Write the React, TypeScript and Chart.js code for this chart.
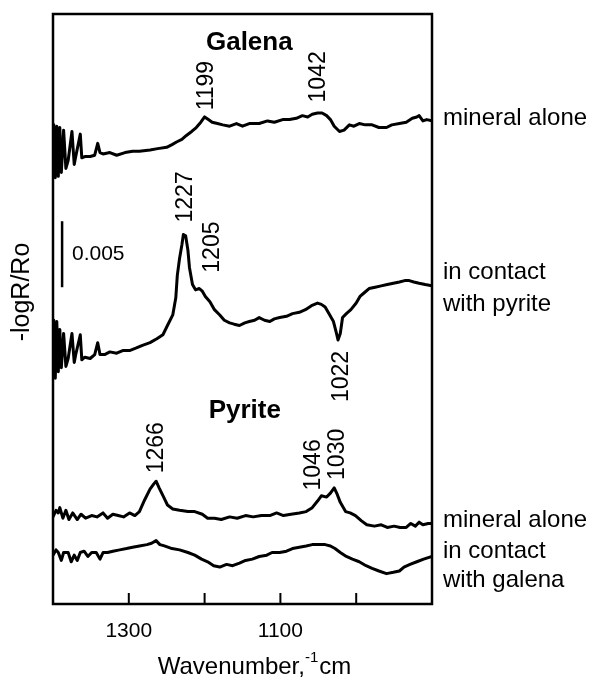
import { useEffect, useRef } from 'react';
import { Chart, registerables } from 'chart.js';
Chart.register(...registerables);

// Wavenumber axis (cm-1), reversed
const xMin = 900;
const xMax = 1400;
const xStep = 100;
const labelledTicks = [1300, 1100];

// y axis in units of 0.001 (-logR/Ro), spectra are offset vertically
const yMin = 0;
const yMax = 44.7;

// Galena, mineral alone
const galenaAloneWn = [1400,1399,1397,1395,1393,1391,1389,1386,1383,1380,1375,1372,1370,1364,1362,1358,1351,1345,1341,1338,1334,1325,1316,1305,1295,1286,1272,1262,1250,1243,1237,1230,1224,1217,1211,1205,1200,1195,1190,1183,1176,1167,1158,1150,1141,1128,1117,1108,1097,1088,1079,1071,1064,1058,1051,1045,1039,1034,1029,1022,1016,1009,1003,996,988,979,970,960,953,943,934,926,920,917,912,907,900];
const galenaAloneVal = [34.4,36.3,32.3,36.2,32.4,36.1,32.7,35.9,33.0,33.6,35.8,33.3,33.9,35.6,33.8,33.9,33.9,34.0,34.9,34.2,34.1,34.2,34.0,34.2,34.3,34.3,34.4,34.5,34.6,34.8,35.0,35.2,35.5,35.8,36.1,36.5,36.9,36.7,36.5,36.4,36.3,36.2,36.4,36.2,36.4,36.4,36.6,36.5,36.7,36.7,36.8,37.0,36.9,37.1,37.2,37.2,37.0,36.7,36.2,35.8,35.9,36.3,36.2,36.4,36.3,36.3,36.1,36.1,36.3,36.4,36.5,36.8,36.9,37.0,36.6,36.7,36.6];

// Galena, in contact with pyrite
const galenaContactWn = [1400,1399,1397,1395,1393,1391,1389,1386,1383,1380,1375,1372,1370,1364,1362,1358,1351,1345,1341,1338,1332,1325,1316,1308,1299,1290,1282,1272,1263,1255,1249,1242,1238,1236,1233,1230,1228,1225,1222,1220,1216,1212,1207,1203,1199,1193,1187,1180,1174,1167,1161,1154,1147,1141,1134,1128,1121,1114,1108,1101,1092,1084,1075,1067,1059,1051,1046,1041,1036,1030,1026,1024,1021,1018,1013,1007,1000,995,989,983,975,967,959,951,943,936,930,924,917,909,900];
const galenaContactVal = [19.2,21.5,17.1,21.4,17.6,20.8,17.9,20.5,18.0,18.6,20.5,18.3,18.9,20.4,18.5,18.7,18.6,18.9,19.8,18.9,18.9,19.1,19.0,19.2,19.2,19.4,19.6,19.8,20.1,20.4,21.1,21.9,23.2,24.9,26.2,27.2,28.0,27.9,26.8,25.5,24.2,23.8,23.9,23.7,23.3,22.9,22.3,21.9,21.5,21.3,21.2,21.1,21.3,21.4,21.5,21.7,21.5,21.4,21.6,21.7,21.8,22.0,22.1,22.3,22.6,22.8,22.7,22.5,22.0,21.4,20.5,20.0,20.5,21.7,22.0,22.3,22.8,23.3,23.6,23.9,24.0,24.1,24.2,24.3,24.4,24.5,24.5,24.4,24.3,24.2,24.1];

// Pyrite, mineral alone
const pyriteAloneWn = [1400,1396,1393,1391,1387,1383,1379,1374,1368,1363,1357,1349,1342,1334,1328,1321,1314,1307,1299,1292,1286,1279,1272,1267,1264,1260,1254,1249,1242,1233,1222,1213,1203,1196,1187,1178,1167,1157,1146,1136,1125,1114,1105,1096,1086,1075,1066,1058,1051,1046,1039,1034,1029,1025,1021,1014,1008,1001,993,986,976,967,959,950,942,934,928,922,917,912,905,900];
const pyriteAloneVal = [6.6,7.1,6.9,7.3,6.5,7.1,6.4,6.9,6.4,6.8,6.5,6.7,6.6,6.9,6.5,6.8,6.7,6.6,6.9,6.7,7.0,7.9,8.7,9.1,9.3,8.8,8.1,7.5,7.2,7.1,7.0,7.0,6.8,6.5,6.5,6.4,6.6,6.5,6.7,6.6,6.7,6.7,6.9,6.7,6.8,6.9,7.0,7.3,7.8,8.2,8.1,8.4,8.8,8.3,7.7,7.0,6.9,6.7,6.3,6.0,5.9,6.0,5.8,5.9,5.8,5.8,6.1,5.9,6.2,6.0,6.1,6.1];

// Pyrite, in contact with galena
const pyriteContactWn = [1400,1396,1393,1389,1386,1380,1376,1372,1368,1364,1359,1354,1349,1343,1338,1334,1328,1321,1312,1303,1295,1286,1276,1270,1264,1259,1253,1243,1233,1222,1213,1204,1196,1188,1180,1171,1163,1154,1146,1137,1128,1118,1111,1101,1092,1084,1075,1066,1058,1049,1041,1034,1028,1021,1013,1005,996,987,979,970,960,951,943,937,929,920,911,900];
const pyriteContactVal = [3.7,4.1,3.9,3.3,3.9,3.9,3.2,3.7,3.3,3.9,4.0,3.6,3.9,3.9,3.4,3.9,3.9,4.0,4.1,4.2,4.3,4.4,4.5,4.6,4.8,4.5,4.4,4.2,4.1,3.9,3.7,3.4,3.2,2.9,2.8,3.0,2.9,3.1,3.3,3.4,3.6,3.7,3.9,3.9,4.0,4.2,4.3,4.4,4.5,4.5,4.5,4.4,4.2,3.9,3.6,3.4,3.2,2.9,2.7,2.5,2.3,2.4,2.5,2.8,3.0,3.2,3.4,3.6];

// Peak labels (rotated): text, wavenumber position, y at start of text
const peakLabels = ['1199', '1042', '1227', '1205', '1022', '1266', '1046', '1030'];
const peakLabelWn = [1199, 1051, 1226, 1191, 1021, 1264, 1057, 1026];
const peakLabelY = [37.4, 38.0, 28.9, 25.1, 15.3, 9.9, 8.6, 9.4];

// Panel titles
const titles = ['Galena', 'Pyrite'];
const titleWn = [1141, 1147];
const titleY = [42.5, 14.6];

// Right-hand spectrum labels
const sideLabels = ['mineral alone', 'in contact', 'with pyrite', 'mineral alone', 'in contact', 'with galena'];
const sideLabelY = [36.8, 25.1, 22.7, 6.3, 4.0, 1.8];

// Scale bar (0.005 = 5 units)
const scaleBarWn = 1388;
const scaleBarFrom = 24.0;
const scaleBarTo = 29.0;
const scaleBarText = '0.005';
const scaleBarTextWn = 1375;

const FONT = '"Liberation Sans", Arial, Helvetica, sans-serif';

export default function App() {
  const ref = useRef<HTMLCanvasElement>(null);
  useEffect(() => {
    const canvas = ref.current;
    if (!canvas) return;
    const mk = (wn: number[], v: number[]) => wn.map((x, i) => ({ x, y: v[i] }));
    const lineDs = (label: string, wn: number[], v: number[]) => ({
      label,
      data: mk(wn, v),
      borderColor: '#000',
      borderWidth: 3,
      pointRadius: 0,
      tension: 0,
      fill: false,
      borderJoinStyle: 'round' as const,
    });

    const overlay = {
      id: 'overlay',
      afterDraw(chart: any) {
        const { ctx, chartArea: a, scales } = chart;
        const xs = scales.x;
        const ys = scales.y;
        const X = (w: number) => xs.getPixelForValue(w);
        const Y = (v: number) => ys.getPixelForValue(v);
        ctx.save();
        ctx.strokeStyle = '#000';
        ctx.fillStyle = '#000';
        // frame
        ctx.lineWidth = 2.5;
        ctx.strokeRect(a.left, a.top, a.right - a.left, a.bottom - a.top);
        // inward ticks
        ctx.lineWidth = 2;
        xs.ticks.forEach((t: any) => {
          if (t.value <= xMin || t.value >= xMax) return;
          const px = X(t.value);
          ctx.beginPath();
          ctx.moveTo(px, a.bottom);
          ctx.lineTo(px, a.bottom - 11);
          ctx.stroke();
        });
        // scale bar
        ctx.lineWidth = 2.5;
        ctx.beginPath();
        ctx.moveTo(X(scaleBarWn), Y(scaleBarFrom));
        ctx.lineTo(X(scaleBarWn), Y(scaleBarTo));
        ctx.stroke();
        ctx.font = `21px ${FONT}`;
        ctx.textAlign = 'left';
        ctx.textBaseline = 'middle';
        ctx.fillText(scaleBarText, X(scaleBarTextWn), Y((scaleBarFrom + scaleBarTo) / 2));
        // peak labels
        ctx.font = `23px ${FONT}`;
        peakLabels.forEach((t, i) => {
          ctx.save();
          ctx.translate(X(peakLabelWn[i]), Y(peakLabelY[i]));
          ctx.rotate(-Math.PI / 2);
          ctx.textAlign = 'left';
          ctx.textBaseline = 'middle';
          ctx.fillText(t, 0, 1);
          ctx.restore();
        });
        // titles
        ctx.font = `bold 26px ${FONT}`;
        ctx.textAlign = 'center';
        ctx.textBaseline = 'middle';
        titles.forEach((t, i) => ctx.fillText(t, X(titleWn[i]), Y(titleY[i])));
        // side labels
        ctx.font = `24px ${FONT}`;
        ctx.textAlign = 'left';
        sideLabels.forEach((t, i) => ctx.fillText(t, a.right + 11, Y(sideLabelY[i])));
        // y title
        ctx.save();
        ctx.translate(22, (a.top + a.bottom) / 2 - 17);
        ctx.rotate(-Math.PI / 2);
        ctx.textAlign = 'center';
        ctx.textBaseline = 'middle';
        ctx.font = `25px ${FONT}`;
        ctx.fillText('-logR/Ro', 0, 0);
        ctx.restore();
        // x title with superscript
        const big = `24px ${FONT}`;
        const small = `15px ${FONT}`;
        ctx.textBaseline = 'alphabetic';
        ctx.textAlign = 'left';
        ctx.font = big;
        const w1 = ctx.measureText('Wavenumber,').width;
        const w3 = ctx.measureText('cm').width;
        ctx.font = small;
        const w2 = ctx.measureText('-1').width;
        const total = w1 + w2 + w3 + 1;
        let x0 = (a.left + a.right) / 2 + 12 - total / 2;
        const base = a.bottom + 70;
        ctx.font = big;
        ctx.fillText('Wavenumber,', x0, base);
        x0 += w1;
        ctx.font = small;
        ctx.fillText('-1', x0, base - 12);
        x0 += w2 + 1;
        ctx.font = big;
        ctx.fillText('cm', x0, base);
        ctx.restore();
      },
    };

    const chart = new Chart(canvas, {
      type: 'line',
      data: {
        datasets: [
          lineDs('Galena alone', galenaAloneWn, galenaAloneVal),
          lineDs('Galena in contact with pyrite', galenaContactWn, galenaContactVal),
          lineDs('Pyrite alone', pyriteAloneWn, pyriteAloneVal),
          lineDs('Pyrite in contact with galena', pyriteContactWn, pyriteContactVal),
        ],
      },
      options: {
        animation: false,
        responsive: false,
        devicePixelRatio: 1,
        layout: { padding: { left: 53, top: 14, right: 160, bottom: 0 } },
        plugins: { legend: { display: false }, tooltip: { enabled: false } },
        scales: {
          x: {
            type: 'linear',
            reverse: true,
            min: xMin,
            max: xMax,
            border: { display: false },
            grid: { display: false, drawTicks: false },
            afterFit: (s: any) => { s.height = 81; },
            ticks: {
              stepSize: xStep,
              autoSkip: false,
              maxRotation: 0,
              padding: 15,
              color: '#000',
              font: { family: FONT, size: 21 },
              callback: (v: any) => (labelledTicks.includes(Number(v)) ? String(v) : ''),
            },
          },
          y: {
            type: 'linear',
            min: yMin,
            max: yMax,
            display: false,
          },
        },
      },
      plugins: [overlay],
    });
    return () => chart.destroy();
  }, []);
  return (
    <div style={{ position: 'absolute', left: 0, top: 0, width: 592, height: 685, background: '#fff' }}>
      <canvas ref={ref} width={592} height={685} style={{ display: 'block' }} />
    </div>
  );
}
